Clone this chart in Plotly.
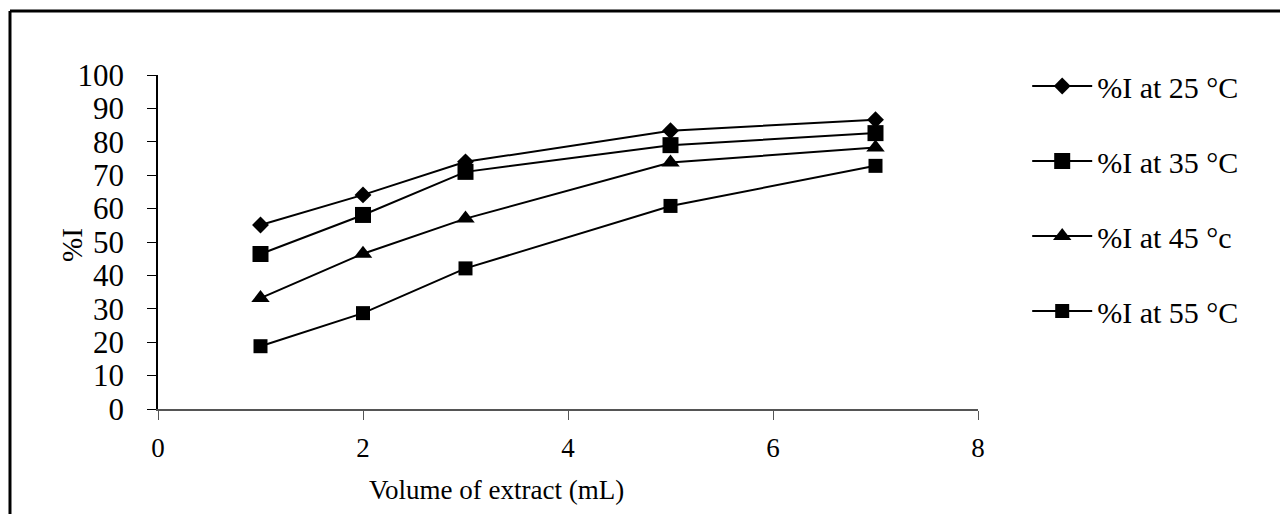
import plotly.graph_objects as go

volume = [1, 2, 3, 5, 7]
series_names = ["%I at 25 °C", "%I at 35 °C", "%I at 45 °c", "%I at 55 °C"]
i25 = [55.1, 64.1, 74.0, 83.3, 86.6]
i35 = [46.4, 58.1, 71.0, 79.0, 82.6]
i45 = [33.2, 46.5, 57.0, 73.8, 78.3]
i55 = [18.8, 28.7, 42.1, 60.8, 72.8]
x_ticks = [0, 2, 4, 6, 8]
y_ticks = [0, 10, 20, 30, 40, 50, 60, 70, 80, 90, 100]

FONT = "Liberation Serif"
symbols = ["diamond", "square", "triangle-up", "square"]
sizes = [13, 16, 16, 14]
values = [i25, i35, i45, i55]

fig = go.Figure()
for name, vals, sym, sz in zip(series_names, values, symbols, sizes):
    fig.add_trace(go.Scatter(
        x=volume, y=vals, name=name, mode="lines+markers",
        line=dict(color="black", width=2),
        marker=dict(symbol=sym, size=sz, color="black"),
        legendgroup=name,
    ))

fig.update_layout(
    width=1280, height=514,
    margin=dict(l=158, r=302, t=75, b=105),
    paper_bgcolor="white", plot_bgcolor="white",
    font=dict(family=FONT, color="black", size=26),
    showlegend=True,
    legend=dict(x=1.06, y=1.045, xanchor="left", yanchor="top",
                font=dict(family=FONT, size=30, color="black"),
                tracegroupgap=33, itemwidth=60, maxheight=600,
                bgcolor="rgba(0,0,0,0)"),
    xaxis=dict(range=[0, 8], tickvals=x_ticks, showgrid=False, zeroline=False,
               showline=True, linecolor="#555555", linewidth=1.5,
               ticks="outside", ticklen=9, tickcolor="#555555",
               ticklabelstandoff=5,
               tickfont=dict(family=FONT, size=27)),
    yaxis=dict(range=[0, 100], tickvals=y_ticks, showgrid=False, zeroline=False,
               showline=True, linecolor="black", linewidth=1.5,
               ticks="outside", ticklen=9, tickcolor="black",
               ticklabelstandoff=17,
               tickfont=dict(family=FONT, size=31)),
    annotations=[
        dict(text="%I", xref="paper", yref="paper", x=-0.1049, y=0.491,
             xanchor="center", yanchor="middle", textangle=-90, showarrow=False,
             font=dict(family=FONT, size=29, color="black")),
        dict(text="Volume of extract (mL)", xref="paper", yref="paper", x=0.4134, y=-0.2425,
             xanchor="center", yanchor="middle", showarrow=False,
             font=dict(family=FONT, size=27, color="black")),
    ],
    shapes=[
        dict(type="line", xref="paper", yref="paper", x0=-0.1805, x1=1.4, y0=1.1916, y1=1.1916,
             line=dict(color="black", width=3)),
        dict(type="line", xref="paper", yref="paper", x0=-0.1805, x1=-0.1805, y0=1.1916, y1=-0.4,
             line=dict(color="black", width=3)),
    ],
)

fig.write_html("out.html")
